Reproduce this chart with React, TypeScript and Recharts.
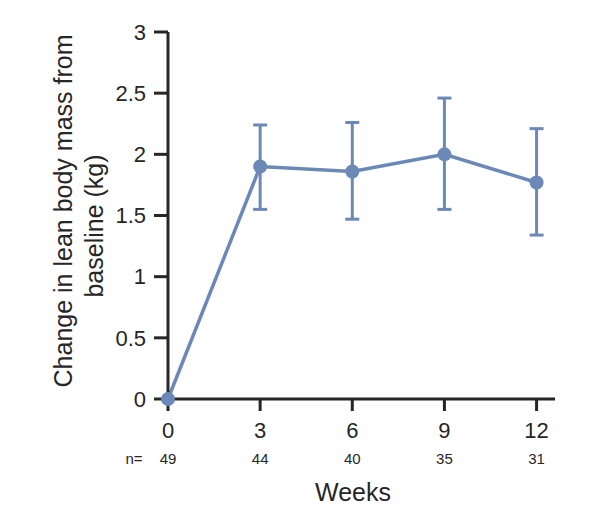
import { LineChart, Line, XAxis, YAxis, ErrorBar, Label } from "recharts"

const FONT = '"Liberation Sans", Arial, sans-serif'
const BLUE = "#6a89b7"
const AXIS = "#262626"

// weeks since baseline
const weeks = [0, 3, 6, 9, 12]
// mean change in lean body mass (kg)
const meanChange = [0, 1.9, 1.86, 2.0, 1.77]
// error bar ends (kg)
const upperBound = [null, 2.24, 2.26, 2.46, 2.21]
const lowerBound = [null, 1.55, 1.47, 1.55, 1.34]
// patients at each visit
const nCounts = [49, 44, 40, 35, 31]

const xTicks = [0, 3, 6, 9, 12]
const yTicks = [0, 0.5, 1, 1.5, 2, 2.5, 3]

const chartData = weeks.map((w, i) => ({
    week: w,
    mean: meanChange[i],
    err: upperBound[i] == null ? null : [meanChange[i] - (lowerBound[i] as number), (upperBound[i] as number) - meanChange[i]],
    n: nCounts[i],
}))

function WeekTick(props: any) {
    const { x, y, payload, index } = props
    return (
        <g>
            <text x={x} y={y + 25} textAnchor="middle" fill={AXIS} fontSize={22} fontFamily={FONT}>
                {payload.value}
            </text>
            {index === 0 && (
                <text x={x - 34} y={y + 51} textAnchor="middle" fill={AXIS} fontSize={15} fontFamily={FONT}>
                    n=
                </text>
            )}
            <text x={x} y={y + 51} textAnchor="middle" fill={AXIS} fontSize={15} fontFamily={FONT}>
                {nCounts[weeks.indexOf(payload.value)]}
            </text>
        </g>
    )
}

function YTitle(props: any) {
    return (
        <g fill={AXIS} fontSize={25} fontFamily={FONT}>
            <text x={72} y={211} textAnchor="middle" transform="rotate(-90, 72, 211)">
                Change in lean body mass from
            </text>
            <text x={103} y={226} textAnchor="middle" transform="rotate(-90, 103, 226)">
                baseline (kg)
            </text>
        </g>
    )
}

function XTitle(props: any) {
    return (
        <text x={353} y={501} textAnchor="middle" fill={AXIS} fontSize={25} fontFamily={FONT}>
            Weeks
        </text>
    )
}

export default function App() {
    return (
        <div style={{ position: "absolute", left: 0, top: 0, background: "#fff" }}>
            <LineChart width={606} height={519} data={chartData} margin={{ top: 32, right: 51, left: 0, bottom: 0 }}>
                <XAxis
                    dataKey="week"
                    type="number"
                    domain={[0, 12.6]}
                    ticks={xTicks}
                    height={120}
                    tickSize={12}
                    tickMargin={2}
                    axisLine={{ stroke: AXIS, strokeWidth: 3 }}
                    tickLine={{ stroke: AXIS, strokeWidth: 3 }}
                    tick={<WeekTick />}
                    interval={0}
                >
                    <Label content={<XTitle />} />
                </XAxis>
                <YAxis
                    type="number"
                    domain={[0, 3]}
                    ticks={yTicks}
                    width={168}
                    tickSize={14}
                    tickMargin={8}
                    axisLine={{ stroke: AXIS, strokeWidth: 3 }}
                    tickLine={{ stroke: AXIS, strokeWidth: 3 }}
                    tick={{ fill: AXIS, fontSize: 22, fontFamily: FONT }}
                    interval={0}
                >
                    <Label content={<YTitle />} />
                </YAxis>
                <Line
                    dataKey="mean"
                    stroke={BLUE}
                    strokeWidth={3.5}
                    dot={{ r: 7, fill: BLUE, stroke: "none" }}
                    activeDot={false}
                    isAnimationActive={false}
                >
                    <ErrorBar dataKey="err" direction="y" width={7} stroke={BLUE} strokeWidth={3} isAnimationActive={false} />
                </Line>
            </LineChart>
        </div>
    )
}
